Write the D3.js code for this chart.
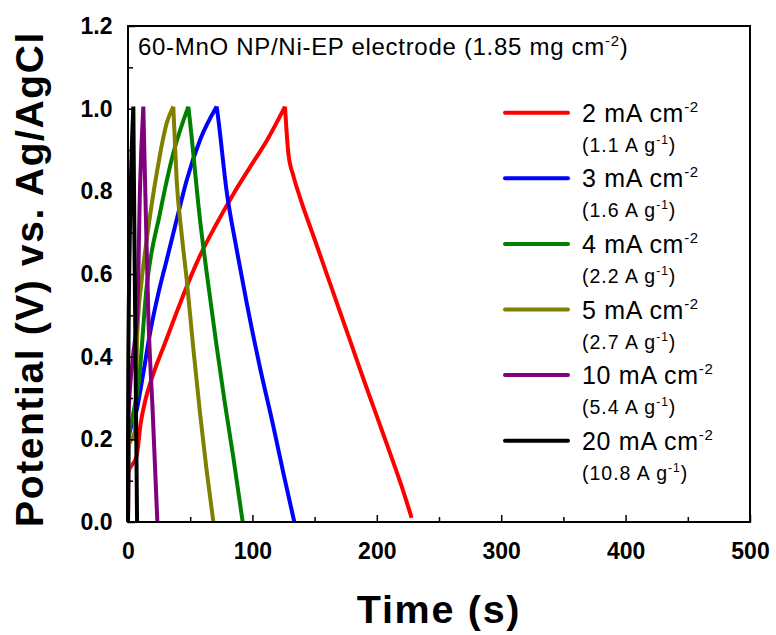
<!DOCTYPE html>
<meta charset="utf-8">
<style>
  body { margin: 0; background: #fff; }
  text { font-family: Arial, "Liberation Sans", sans-serif; }
</style>
<svg width="776" height="635"></svg>
<script src="https://cdn.jsdelivr.net/npm/d3@7"></script>
<script>

// galvanostatic charge/discharge curves, time (s) vs potential (V)
var t_2mA  = [0, 0.4, 7.0, 10, 14, 20, 30, 42, 50, 58, 70, 85, 98, 112, 126.2, 128.9, 132.9, 138.3, 150, 160, 170, 180, 190, 200, 210, 220, 228];
var v_2mA  = [0, 0.12, 0.16, 0.235, 0.295, 0.355, 0.435, 0.53, 0.59, 0.645, 0.715, 0.795, 0.858, 0.925, 1.005, 0.892, 0.838, 0.785, 0.684, 0.598, 0.512, 0.426, 0.340, 0.256, 0.172, 0.086, 0.01];
var t_3mA  = [0, 0.3, 7.0, 12.3, 17.7, 24.4, 31.1, 39.1, 47.2, 57.9, 71.3, 72.6, 79.3, 87, 95.4, 106, 116.8, 125, 133.7];
var v_3mA  = [0, 0.2, 0.271, 0.360, 0.457, 0.553, 0.634, 0.731, 0.827, 0.924, 1.005, 0.975, 0.80, 0.665, 0.53, 0.375, 0.232, 0.117, 0];
var t_4mA  = [0, 0.3, 4.0, 8.3, 15.0, 25.7, 36.4, 48.5, 49.8, 57.9, 64.5, 71.3, 78, 84.6, 92.2];
var v_4mA  = [0, 0.2, 0.26, 0.33, 0.569, 0.747, 0.892, 1.005, 0.970, 0.731, 0.575, 0.424, 0.285, 0.158, 0];
var t_5mA  = [0, 0.3, 5.5, 7.5, 11, 15.0, 23.1, 31.1, 36.4, 39.1, 43, 47.2, 52.5, 57.9, 63, 68.6];
var v_5mA  = [0, 0.18, 0.22, 0.457, 0.585, 0.682, 0.844, 0.965, 1.005, 0.827, 0.70, 0.586, 0.42, 0.263, 0.13, 0];
var t_10mA = [0, 0.3, 4.0, 7.5, 9.6, 12.3, 13.7, 16.3, 19.9, 23.6];
var v_10mA = [0, 0.25, 0.40, 0.505, 0.803, 1.005, 0.827, 0.505, 0.263, 0];
var t_20mA = [0, 0.2, 1.5, 3.0, 4.3, 4.7, 5.6, 6.5, 7.3];
var v_20mA = [0, 0.35, 0.70, 0.90, 1.005, 0.85, 0.55, 0.25, 0];

var currentLabels  = ["2", "3", "4", "5", "10", "20"];
var specificLabels = ["1.1", "1.6", "2.2", "2.7", "5.4", "10.8"];

var xTicks = [0, 100, 200, 300, 400, 500],
    yTicks = [0, 0.2, 0.4, 0.6, 0.8, 1.0, 1.2];

var colors = ["#ff0000", "#0000ff", "#008000", "#808000", "#800080", "#000000"];

var series = [[t_2mA, v_2mA], [t_3mA, v_3mA], [t_4mA, v_4mA], [t_5mA, v_5mA], [t_10mA, v_10mA], [t_20mA, v_20mA]]
  .map(function(s, i) {
    return { color: colors[i], cur: currentLabels[i], spec: specificLabels[i],
             values: s[0].map(function(t, j) { return { t: t, v: s[1][j] }; }) };
  });

var svg = d3.select("svg"),
    margin = {top: 26, right: 26, bottom: 113, left: 128},
    width = svg.attr("width") - margin.left - margin.right,
    height = svg.attr("height") - margin.top - margin.bottom;

var x = d3.scaleLinear().domain([0, 500]).range([0, width]),
    y = d3.scaleLinear().domain([0, 1.2]).range([height, 0]);

var g = svg.append("g")
    .attr("transform", "translate(" + margin.left + "," + margin.top + ")");

// curves: charge and discharge branches smoothed separately, sharp at the turn
var line = d3.line()
    .curve(d3.curveMonotoneX)
    .x(function(d) { return x(d.t); })
    .y(function(d) { return y(d.v); });

function curvePath(vals) {
  var k = d3.maxIndex(vals, function(d) { return d.v; });
  return line(vals.slice(0, k + 1)) + line(vals.slice(k));
}

g.selectAll(".curve")
  .data(series)
  .enter().append("path")
    .attr("class", "curve")
    .attr("fill", "none")
    .attr("stroke", function(d) { return d.color; })
    .attr("stroke-width", 4)
    .attr("stroke-linejoin", "round")
    .attr("d", function(d) { return curvePath(d.values); });

// frame
g.append("rect")
    .attr("width", width)
    .attr("height", height)
    .attr("fill", "none")
    .attr("stroke", "#000")
    .attr("stroke-width", 2);

// axes, ticks pointing inward
g.append("g")
    .attr("transform", "translate(0," + height + ")")
    .call(d3.axisBottom(x).tickValues(xTicks).tickSize(-7).tickPadding(21).tickFormat(d3.format("d")));

g.append("g")
    .attr("transform", "translate(0," + height + ")")
    .call(d3.axisBottom(x).tickValues(d3.range(50, 500, 100)).tickSize(-5).tickFormat(""));

g.append("g")
    .call(d3.axisLeft(y).tickValues(yTicks).tickSize(-7).tickPadding(15.5).tickFormat(d3.format(".1f")));

g.append("g")
    .call(d3.axisLeft(y).tickValues(d3.range(0.1, 1.2, 0.2)).tickSize(-5).tickFormat(""));

g.selectAll(".domain").remove();
g.selectAll(".tick line").attr("stroke", "#000").attr("stroke-width", 1.5);
g.selectAll(".tick text")
    .attr("fill", "#000")
    .style("font-family", "Arial, 'Liberation Sans', sans-serif")
    .style("font-size", "23px")
    .style("font-weight", "bold");

// axis titles
svg.append("text")
    .attr("x", margin.left + width / 2)
    .attr("y", 623)
    .attr("text-anchor", "middle")
    .style("font-size", "39.5px")
    .style("font-weight", "bold")
    .style("letter-spacing", "1.7px")
    .text("Time (s)");

svg.append("text")
    .attr("transform", "translate(43," + 279 + ") rotate(-90)")
    .attr("text-anchor", "middle")
    .style("font-size", "39px")
    .style("font-weight", "bold")
    .style("letter-spacing", "1.6px")
    .text("Potential (V) vs. Ag/AgCl");

// inner title
var title = svg.append("text")
    .attr("x", 138)
    .attr("y", 55)
    .style("font-size", "24px")
    .style("letter-spacing", "0.7px");
title.append("tspan").text("60-MnO NP/Ni-EP electrode (1.85 mg cm");
title.append("tspan").attr("dy", -9).style("font-size", "15px").text("-2");
title.append("tspan").attr("dy", 9).text(")");

// legend
var legend = svg.append("g").selectAll(".entry")
  .data(series)
  .enter().append("g")
    .attr("class", "entry")
    .attr("transform", function(d, i) { return "translate(505," + (112.7 + i * 65.6) + ")"; });

legend.append("line")
    .attr("x1", 0).attr("x2", 63)
    .attr("stroke", function(d) { return d.color; })
    .attr("stroke-width", 4)
    .attr("stroke-linecap", "round");

var main = legend.append("text")
    .attr("x", 77).attr("y", 9)
    .style("font-size", "25px")
    .style("letter-spacing", "0.7px");
main.append("tspan").text(function(d) { return d.cur + " mA cm"; });
main.append("tspan").attr("dy", -10).style("font-size", "15px").text("-2");

var sub = legend.append("text")
    .attr("x", 77).attr("y", 39)
    .style("font-size", "19.5px")
    .style("letter-spacing", "1px");
sub.append("tspan").text(function(d) { return "(" + d.spec + " A g"; });
sub.append("tspan").attr("dy", -8).style("font-size", "12px").text("-1");
sub.append("tspan").attr("dy", 8).text(")");

</script>
